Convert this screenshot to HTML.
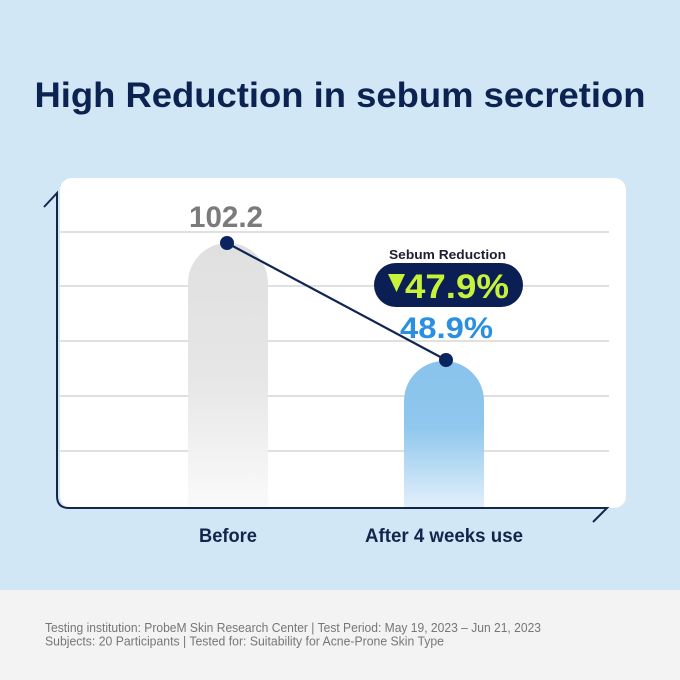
<!DOCTYPE html>
<html>
<head>
<meta charset="utf-8">
<style>
html,body{margin:0;padding:0;background:#d2e7f6;}
svg{display:block;}
text{font-family:"Liberation Sans",sans-serif;}
</style>
</head>
<body>
<svg width="680" height="680" viewBox="0 0 680 680" xmlns="http://www.w3.org/2000/svg">
  <defs>
    <linearGradient id="gBefore" x1="0" y1="0" x2="0" y2="1">
      <stop offset="0" stop-color="#e0e0e0"/>
      <stop offset="0.5" stop-color="#e6e6e6"/>
      <stop offset="1" stop-color="#fafafa"/>
    </linearGradient>
    <linearGradient id="gAfter" x1="0" y1="0" x2="0" y2="1">
      <stop offset="0" stop-color="#89c3ec"/>
      <stop offset="0.45" stop-color="#8fc7ed"/>
      <stop offset="1" stop-color="#e3f0fb"/>
    </linearGradient>
  </defs>
  <rect x="0" y="0" width="680" height="590" fill="#d2e7f6"/>
  <rect x="0" y="590" width="680" height="90" fill="#f3f3f4"/>

  <text x="340" y="107" text-anchor="middle" font-size="35" font-weight="bold" fill="#0c2250" textLength="611" lengthAdjust="spacingAndGlyphs">High Reduction in sebum secretion</text>

  <rect x="60" y="178" width="566" height="330" rx="12" fill="#ffffff"/>

  <g stroke="#d5d5d5" stroke-width="1.5">
    <line x1="60" y1="232" x2="609" y2="232"/>
    <line x1="60" y1="286" x2="609" y2="286"/>
    <line x1="60" y1="341" x2="609" y2="341"/>
    <line x1="60" y1="396" x2="609" y2="396"/>
    <line x1="60" y1="451" x2="609" y2="451"/>
  </g>

  <path d="M188,508 L188,283 A40,40 0 0 1 268,283 L268,508 Z" fill="url(#gBefore)"/>
  <path d="M404,508 L404,401 A40,40 0 0 1 484,401 L484,508 Z" fill="url(#gAfter)"/>

  <path d="M44,207 L57,193 L57,496 Q57,508 69,508 L607,508 L593,522" fill="none" stroke="#13254a" stroke-width="2"/>

  <line x1="227" y1="243" x2="446" y2="360" stroke="#0f2552" stroke-width="2.2"/>
  <circle cx="227" cy="243" r="7" fill="#0a2460"/>
  <circle cx="446" cy="360" r="7" fill="#0a2460"/>

  <text x="189" y="227" font-size="30" font-weight="bold" fill="#7b7b7b" textLength="74" lengthAdjust="spacingAndGlyphs">102.2</text>

  <text x="389" y="259" font-size="13" font-weight="bold" fill="#1e1e30" textLength="117" lengthAdjust="spacingAndGlyphs">Sebum Reduction</text>
  <rect x="374" y="263" width="149" height="44" rx="22" fill="#0b1f55"/>
  <polygon points="388,274 405,274 396.5,292" fill="#c8f23a"/>
  <text x="405" y="298" font-size="34" font-weight="bold" fill="#c8f23a" textLength="104" lengthAdjust="spacingAndGlyphs">47.9%</text>
  <text x="400" y="338" font-size="30" font-weight="bold" fill="#2a8fe0" textLength="93" lengthAdjust="spacingAndGlyphs">48.9%</text>

  <text x="199" y="542" font-size="19" font-weight="bold" fill="#13254a" textLength="58" lengthAdjust="spacingAndGlyphs">Before</text>
  <text x="365" y="542" font-size="19" font-weight="bold" fill="#13254a" textLength="158" lengthAdjust="spacingAndGlyphs">After 4 weeks use</text>

  <text x="45" y="632" font-size="12.5" fill="#767676" textLength="496" lengthAdjust="spacingAndGlyphs">Testing institution: ProbeM Skin Research Center | Test Period: May 19, 2023 – Jun 21, 2023</text>
  <text x="45" y="645.5" font-size="12.5" fill="#767676" textLength="399" lengthAdjust="spacingAndGlyphs">Subjects: 20 Participants | Tested for: Suitability for Acne-Prone Skin Type</text>
</svg>
</body>
</html>
